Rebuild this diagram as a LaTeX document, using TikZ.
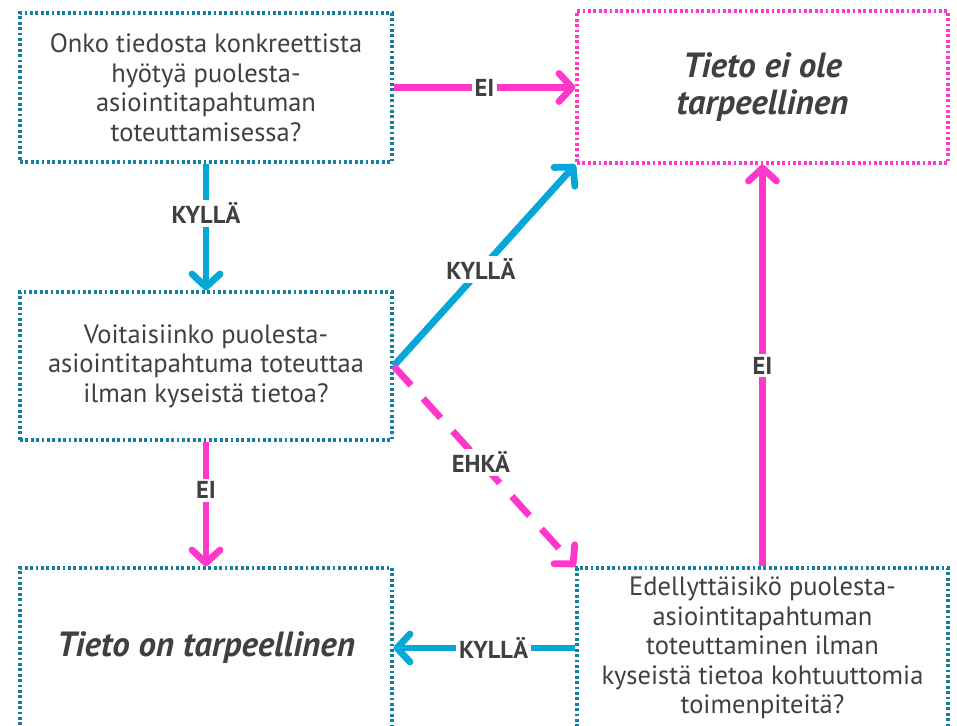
\documentclass[tikz,border=0pt]{standalone}
\usepackage{fontspec}
\setmainfont{PT Sans}
\usetikzlibrary{arrows.meta}
\definecolor{teal}{HTML}{17809E}
\definecolor{pinkc}{HTML}{FF38CB}
\definecolor{bluec}{HTML}{05A6D8}
\definecolor{txt}{HTML}{404040}
\tikzset{
  qbox/.style={draw=teal, line width=3.2pt, dash pattern=on 2.8pt off 2.6pt, rectangle,
    minimum width=372pt, inner sep=0pt, align=center, text=txt,
    font=\fontsize{26.5}{29.5}\selectfont},
  pbox/.style={qbox, draw=pinkc},
  title/.style={font=\fontsize{35}{37}\selectfont\bfseries\itshape},
  conn/.style={line width=6.8pt, -{Straight Barb[length=13pt, width=28pt, round]}},
  pinkarrow/.style={conn, draw=pinkc},
  bluearrow/.style={conn, draw=bluec},
  lbl/.style={fill=white, text=txt, inner sep=3pt, font=\fontsize{24.5}{26}\selectfont\bfseries}
}
\begin{document}
\begin{tikzpicture}[x=1pt,y=-1pt]
\useasboundingbox (0,0) rectangle (957,725);
\clip (0,0) rectangle (957,725);
\node[qbox, minimum height=149pt] (q1) at (206,87.5) {Onko tiedosta konkreettista\\hyötyä puolesta-\\asiointitapahtuman\\toteuttamisessa?};
\node[pbox, minimum width=371pt, minimum height=152pt, title] (no) at (762.5,87) {Tieto ei ole\\tarpeellinen};
\node[qbox, minimum height=148pt] (q2) at (206,366) {Voitaisiinko puolesta-\\asiointitapahtuma toteuttaa\\ilman kyseistä tietoa?};
\node[qbox, minimum height=160pt, title] (yes) at (206,648) {Tieto on tarpeellinen};
\node[qbox, minimum width=371pt, minimum height=160pt] (q3) at (762.5,648) {Edellyttäisikö puolesta-\\asiointitapahtuman\\toteuttaminen ilman\\kyseistä tietoa kohtuuttomia\\toimenpiteitä?};

\draw[pinkarrow] (q1.east) -- node[lbl, pos=0.5] {EI} (no.west |- q1.east);
\draw[bluearrow] (q1.south) -- node[lbl, pos=0.39] {KYLLÄ} (q2.north);
\draw[bluearrow] (q2.east) -- node[lbl, pos=0.48] {KYLLÄ} (no.south west);
\draw[pinkarrow, dash pattern=on 26pt off 18pt] (q2.east) -- node[lbl, pos=0.48] {EHKÄ} (q3.north west);
\draw[pinkarrow] (q2.south) -- node[lbl, pos=0.39] {EI} (yes.north);
\draw[pinkarrow] (q3.north) -- node[lbl, pos=0.5] {EI} (no.south);
\draw[bluearrow] (q3.west) -- node[lbl, pos=0.45] {KYLLÄ} (yes.east);
\end{tikzpicture}
\end{document}
